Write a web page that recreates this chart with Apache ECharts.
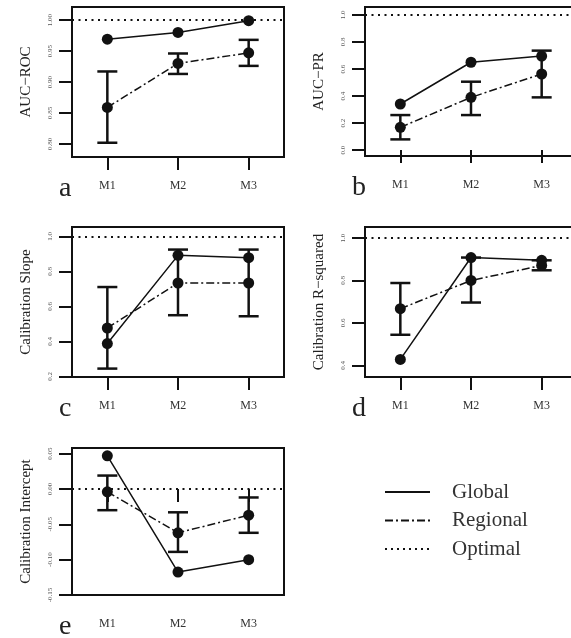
<!DOCTYPE html>
<html>
  <head>
    <meta charset="utf-8" />
    <title>Model comparison</title>
    <script src="https://cdn.jsdelivr.net/npm/echarts@6.0.0/dist/echarts.min.js"></script>
    <style>
      html, body { margin: 0; padding: 0; background: #fff; }
      #chart { width: 571px; height: 638px; }
    </style>
  </head>
  <body>
    <div id="chart"></div>
    <script type="text/javascript">
      const categories = ['M1', 'M2', 'M3'];

      // a: AUC-ROC
      const aucRocGlobal = [0.969, 0.980, 0.999];
      const aucRocRegional = [0.859, 0.930, 0.947];
      const aucRocLow = [0.802, 0.913, 0.926];
      const aucRocHigh = [0.917, 0.946, 0.968];
      const aucRocTicks = [0.80, 0.85, 0.90, 0.95, 1.00];

      // b: AUC-PR
      const aucPrGlobal = [0.341, 0.650, 0.696];
      const aucPrRegional = [0.168, 0.390, 0.563];
      const aucPrLow = [0.079, 0.259, 0.390];
      const aucPrHigh = [0.259, 0.506, 0.736];
      const aucPrTicks = [0.0, 0.2, 0.4, 0.6, 0.8, 1.0];

      // c: calibration slope
      const slopeGlobal = [0.387, 0.891, 0.878];
      const slopeRegional = [0.476, 0.733, 0.733];
      const slopeLow = [0.244, 0.549, 0.543];
      const slopeHigh = [0.710, 0.924, 0.924];
      const slopeTicks = [0.2, 0.4, 0.6, 0.8, 1.0];

      // d: calibration R-squared
      const rsqGlobal = [0.428, 0.908, 0.895];
      const rsqRegional = [0.667, 0.800, 0.871];
      const rsqLow = [0.544, 0.696, 0.848];
      const rsqHigh = [0.788, 0.908, 0.895];
      const rsqTicks = [0.4, 0.6, 0.8, 1.0];

      // e: calibration intercept
      const interceptGlobal = [0.047, -0.1175, -0.100];
      const interceptRegional = [-0.004, -0.062, -0.037];
      const interceptLow = [-0.030, -0.089, -0.062];
      const interceptHigh = [0.019, -0.033, -0.012];
      const interceptTicks = [-0.15, -0.10, -0.05, 0.00, 0.05];

      const optimalValues = [1, 1, 1, 1, 0];

      const panels = [
        { letter: 'a', title: 'AUC\u2212ROC', g: aucRocGlobal, r: aucRocRegional, lo: aucRocLow, hi: aucRocHigh,
          ticks: aucRocTicks, dec: 2, min: 0.779, max: 1.021, left: 72, top: 7, height: 150 },
        { letter: 'b', title: 'AUC\u2212PR', g: aucPrGlobal, r: aucPrRegional, lo: aucPrLow, hi: aucPrHigh,
          ticks: aucPrTicks, dec: 1, min: -0.044, max: 1.059, left: 365, top: 7, height: 149 },
        { letter: 'c', title: 'Calibration Slope', g: slopeGlobal, r: slopeRegional, lo: slopeLow, hi: slopeHigh,
          ticks: slopeTicks, dec: 1, min: 0.196, max: 1.053, left: 72, top: 227, height: 150 },
        { letter: 'd', title: 'Calibration R\u2212squared', g: rsqGlobal, r: rsqRegional, lo: rsqLow, hi: rsqHigh,
          ticks: rsqTicks, dec: 1, min: 0.345, max: 1.052, left: 365, top: 227, height: 150 },
        { letter: 'e', title: 'Calibration Intercept', g: interceptGlobal, r: interceptRegional, lo: interceptLow, hi: interceptHigh,
          ticks: interceptTicks, dec: 2, min: -0.15, max: 0.058, left: 72, top: 448, height: 147 }
      ];

      const serif = "'Liberation Serif', 'DejaVu Serif', serif";
      const grids = [], xAxes = [], yAxes = [], series = [], graphics = [];

      panels.forEach((p, i) => {
        grids.push({
          left: p.left, top: p.top, width: 212, height: p.height,
          outerBoundsMode: 'none', containLabel: false,
          show: true, borderColor: '#111', borderWidth: 2, backgroundColor: 'transparent'
        });
        xAxes.push({
          type: 'category', gridIndex: i, data: categories, boundaryGap: true,
          axisLine: { show: false },
          axisTick: { show: true, alignWithLabel: true, length: 13, lineStyle: { color: '#111', width: 2 } },
          axisLabel: { fontFamily: serif, fontSize: 12, color: '#333', margin: 23 },
          splitLine: { show: false }
        });
        yAxes.push({
          type: 'value', gridIndex: i, min: p.min, max: p.max,
          name: p.title, nameLocation: 'middle', nameRotate: 90, nameGap: 38,
          nameTextStyle: { fontFamily: serif, fontSize: 15, color: '#222' },
          axisLine: { show: false },
          axisTick: { show: true, length: 13, customValues: p.ticks, lineStyle: { color: '#111', width: 2 } },
          axisLabel: {
            customValues: p.ticks, rotate: 90, margin: 18, fontFamily: serif, fontSize: 7, color: '#555',
            formatter: (v) => v.toFixed(p.dec)
          },
          splitLine: { show: false }
        });

        const errData = categories.map((c, k) => [k, p.lo[k], p.hi[k]]);
        series.push({
          type: 'custom', name: 'Regional CI', xAxisIndex: i, yAxisIndex: i, z: 2,
          data: errData,
          renderItem: function (params, api) {
            const top = api.coord([api.value(0), api.value(2)]);
            const bot = api.coord([api.value(0), api.value(1)]);
            const w = 10;
            const style = { stroke: '#111', lineWidth: 2.5 };
            return {
              type: 'group',
              children: [
                { type: 'line', shape: { x1: top[0], y1: top[1], x2: bot[0], y2: bot[1] }, style },
                { type: 'line', shape: { x1: top[0] - w, y1: top[1], x2: top[0] + w, y2: top[1] }, style },
                { type: 'line', shape: { x1: bot[0] - w, y1: bot[1], x2: bot[0] + w, y2: bot[1] }, style }
              ]
            };
          }
        });
        series.push({
          type: 'line', name: 'Regional', xAxisIndex: i, yAxisIndex: i, z: 3,
          data: p.r, symbol: 'circle', symbolSize: 11,
          itemStyle: { color: '#111' },
          lineStyle: { color: '#111', width: 1.5, type: [8, 3, 2, 3] }
        });
        series.push({
          type: 'line', name: 'Global', xAxisIndex: i, yAxisIndex: i, z: 4,
          data: p.g, symbol: 'circle', symbolSize: 11,
          itemStyle: { color: '#111' },
          lineStyle: { color: '#111', width: 1.5 },
          markLine: {
            silent: true, symbol: 'none', label: { show: false },
            lineStyle: { color: '#111', width: 2, type: [2, 4.5] },
            data: [{ yAxis: optimalValues[i] }]
          }
        });

        graphics.push({
          type: 'text', left: p.left - 13, top: p.top + p.height + 18,
          style: { text: p.letter, font: '28px ' + serif, fill: '#222' }
        });
      });

      // legend
      const legendItems = [
        { label: 'Global', dash: null },
        { label: 'Regional', dash: [8, 3, 2, 3] },
        { label: 'Optimal', dash: [2, 4] }
      ];
      legendItems.forEach((it, k) => {
        const y = 492 + k * 28.5;
        graphics.push({
          type: 'line', shape: { x1: 385, y1: y, x2: 430, y2: y },
          style: { stroke: '#111', lineWidth: 2, lineDash: it.dash || null }
        });
        graphics.push({
          type: 'text', x: 452, y: y, style: {
            text: it.label, font: '21px ' + serif, fill: '#333', verticalAlign: 'middle'
          }
        });
      });

      const chart = echarts.init(document.getElementById('chart'), null, { renderer: 'canvas' });
      chart.setOption({
        animation: false,
        backgroundColor: '#fff',
        grid: grids,
        xAxis: xAxes,
        yAxis: yAxes,
        series: series,
        graphic: graphics
      });
    </script>
  </body>
</html>
